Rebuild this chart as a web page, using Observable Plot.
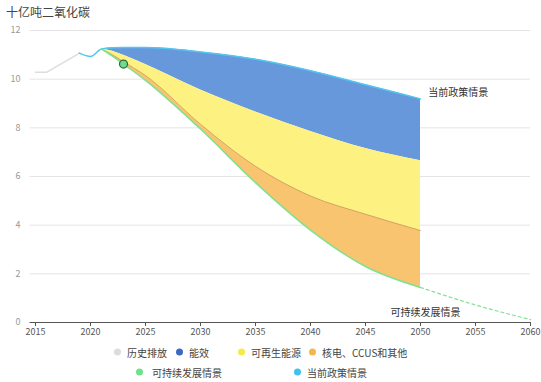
<!DOCTYPE html>
<html><head><meta charset="utf-8">
<script src="https://cdn.jsdelivr.net/npm/d3@7"></script>
<script src="https://cdn.jsdelivr.net/npm/@observablehq/plot@0.6"></script>
<style>
body{margin:0;background:#fff;font-family:"Noto Sans CJK SC","Noto Sans",sans-serif;}
#wrap{position:relative;width:541px;height:382px;overflow:hidden;}
#title{height:24px;line-height:24px;padding-left:6px;font-size:12px;color:#444;}
#legend{position:relative;height:42px;font-size:10px;color:#444;}
.li{position:absolute;display:flex;align-items:center;white-space:nowrap;transform:translateY(-50%);}
.dot{width:7px;height:7px;border-radius:50%;display:inline-block;}
</style></head>
<body><div id="wrap"><div id="title">十亿吨二氧化碳</div><div id="chart"></div><div id="legend"></div></div>
<script>
const histYears = [2015, 2016, 2017, 2018, 2019];
const histValues = [10.28, 10.28, 10.55, 10.8, 11.07];
const policyYears = [2019, 2020, 2021, 2022, 2023, 2025, 2030, 2035, 2040, 2045, 2050];
const policyValues = [11.07, 10.93, 11.24, 11.29, 11.3, 11.3, 11.12, 10.82, 10.35, 9.77, 9.19];
const bandYears = [2021, 2022, 2023, 2025, 2030, 2035, 2040, 2045, 2050];
const efficiencyBottom = [11.24, 11.15, 10.98, 10.6, 9.55, 8.65, 7.85, 7.15, 6.65];
const renewablesBottom = [11.24, 11.0, 10.72, 10.15, 8.15, 6.42, 5.2, 4.45, 3.78];
const sdsValues = [11.24, 10.95, 10.62, 9.95, 7.95, 5.75, 3.8, 2.3, 1.44];
const sdsTailYears = [2050, 2055, 2060];
const sdsTailValues = [1.44, 0.72, 0.12];
const markerYear = 2023, markerValue = 10.62;
const xTicks = [2015, 2020, 2025, 2030, 2035, 2040, 2045, 2050, 2055, 2060];
const yTicks = [0, 2, 4, 6, 8, 10, 12];
const legendRow1 = ["历史排放", "能效", "可再生能源", "核电、CCUS和其他"];
const legendRow2 = ["可持续发展情景", "当前政策情景"];

const colors = {blue:"#6798dc", yellow:"#fdf281", orange:"#f9c46f", green:"#7fe08f", cyan:"#52c6ee", hist:"#dddddd"};

const hist = histYears.map((y,i)=>({year:y, v:histValues[i]}));
const policy = policyYears.map((y,i)=>({year:y, v:policyValues[i]}));
const policyTop = bandYears.map(y => policyValues[policyYears.indexOf(y)]);
const bands = bandYears.map((y,i)=>({year:y, top:policyTop[i], eff:efficiencyBottom[i], ren:renewablesBottom[i], sds:sdsValues[i]}));
const tail = sdsTailYears.map((y,i)=>({year:y, v:sdsTailValues[i]}));
const curve = "monotone-x";

const plot = Plot.plot({
  width: 541, height: 316,
  marginTop: 6, marginBottom: 18, marginLeft: 29.5, marginRight: 11,
  style: {fontFamily: '"Noto Sans CJK SC","Noto Sans",sans-serif', background: "#fff"},
  x: {domain: [2014.5, 2060], axis: null},
  y: {domain: [0, 12], axis: null},
  marks: [
    Plot.gridY(yTicks.filter(d => d > 0), {stroke: "#e4e4e4", strokeOpacity: 1}),
    Plot.axisY(yTicks, {tickSize: 0, tickPadding: 9.5, fontSize: 9, fill: "#999"}),
    Plot.areaY(bands, {x: "year", y1: "eff", y2: "top", fill: colors.blue, curve}),
    Plot.areaY(bands, {x: "year", y1: "ren", y2: "eff", fill: colors.yellow, curve}),
    Plot.areaY(bands, {x: "year", y1: "sds", y2: "ren", fill: colors.orange, curve}),
    Plot.line(bands, {x: "year", y: "ren", stroke: "#b78a4a", strokeWidth: 0.6, curve}),
    Plot.line(hist, {x: "year", y: "v", stroke: colors.hist, strokeWidth: 1.5}),
    Plot.line(policy, {x: "year", y: "v", stroke: colors.cyan, strokeWidth: 1.5, curve}),
    Plot.line(bands, {x: "year", y: "sds", stroke: colors.green, strokeWidth: 1.5, curve}),
    Plot.line(tail, {x: "year", y: "v", stroke: colors.green, strokeWidth: 1.2, strokeDasharray: "3,3", curve}),
    Plot.dot([{year: markerYear, v: markerValue}], {x: "year", y: "v", r: 4, fill: "#6fdc8c", stroke: "#2b6b3b", strokeWidth: 1.2}),
    Plot.ruleY([0], {stroke: "#555", strokeWidth: 1}),
    Plot.axisX(xTicks, {tickSize: 4, tickPadding: 2, fontSize: 9, fill: "#555", stroke: "#555", tickFormat: d => String(d)}),
    Plot.text([{x: 2050.7, y: 9.45, t: "当前政策情景"}], {x: "x", y: "y", text: "t", textAnchor: "start", fontSize: 10, fill: "#333"}),
    Plot.text([{x: 2050.45, y: 0.41, t: "可持续发展情景"}], {x: "x", y: "y", text: "t", textAnchor: "middle", fontSize: 10, fill: "#333"})
  ]
});
document.getElementById("chart").appendChild(plot);

const legend = document.getElementById("legend");
const items = [
  {t: legendRow1[0], c: "#dcdcdc", x: 114, y: 12},
  {t: legendRow1[1], c: "#3c68c2", x: 176, y: 12},
  {t: legendRow1[2], c: "#f4ea4a", x: 238, y: 12},
  {t: legendRow1[3], c: "#f4b648", x: 309, y: 12},
  {t: legendRow2[0], c: "#6fe08c", x: 136, y: 32},
  {t: legendRow2[1], c: "#3fc2ec", x: 294, y: 32}
];
items.forEach((d, i) => {
  const el = document.createElement("div");
  el.className = "li";
  el.style.left = d.x + "px"; el.style.top = d.y + "px";
  const gap = i === 4 ? 9 : 6;
  el.innerHTML = `<span class="dot" style="background:${d.c};margin-right:${gap}px"></span><span>${d.t}</span>`;
  legend.appendChild(el);
});
</script></body></html>
